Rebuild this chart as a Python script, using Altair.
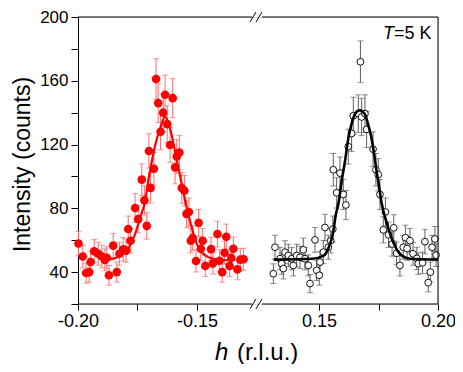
import altair as alt
import pandas as pd

# ---- data ----
# negative-h scan (red, filled)
h_neg = [-0.1998, -0.1980, -0.1966, -0.1953, -0.1947, -0.1932, -0.1915, -0.1900, -0.1887, -0.1879,
         -0.1870, -0.1852, -0.1837, -0.1826, -0.1810, -0.1798, -0.1789, -0.1779, -0.1760, -0.1747,
         -0.1732, -0.1721, -0.1711, -0.1702, -0.1695, -0.1681, -0.1672, -0.1663, -0.1653, -0.1642,
         -0.1634, -0.1625, -0.1613, -0.1602, -0.1592, -0.1585, -0.1574, -0.1564, -0.1553, -0.1544,
         -0.1534, -0.1526, -0.1518, -0.1504, -0.1493, -0.1484, -0.1476, -0.1465, -0.1441, -0.1433,
         -0.1414, -0.1405, -0.1394, -0.1384, -0.1377, -0.1363, -0.1356, -0.1347, -0.1330, -0.1318,
         -0.1304]
I_neg = [57.9, 49.8, 39.4, 40.0, 46.3, 53.1, 51.5, 49.8, 47.7, 49.0,
         38.0, 56.6, 40.0, 51.5, 54.3, 53.5, 67.0, 59.7, 80.2, 73.2,
         98.0, 85.0, 69.0, 116.0, 92.8, 104.8, 161.1, 146.0, 128.0, 140.0,
         151.2, 132.8, 119.7, 149.1, 105.7, 112.5, 115.0, 92.8, 91.1, 76.5,
         77.7, 59.7, 61.3, 47.0, 70.9, 54.6, 59.7, 43.9, 54.4, 45.5,
         63.9, 47.1, 40.0, 52.1, 62.2, 43.9, 48.9, 54.6, 41.7, 47.8,
         48.1]
err_neg = [7.6, 7.1, 6.3, 6.3, 6.8, 7.3, 7.2, 7.1, 6.9, 7.0,
           6.2, 7.5, 6.3, 7.2, 7.4, 7.3, 8.2, 7.7, 9.0, 8.6,
           9.9, 9.2, 8.3, 10.8, 9.6, 10.2, 12.7, 12.1, 11.3, 11.8,
           12.3, 11.5, 10.9, 12.2, 10.3, 10.6, 10.7, 9.6, 9.5, 8.7,
           8.8, 7.7, 7.8, 6.9, 8.4, 7.4, 7.7, 6.6, 7.4, 6.7,
           8.0, 6.9, 6.3, 7.2, 7.9, 6.6, 7.0, 7.4, 6.5, 6.9,
           6.9]

# positive-h scan (black, open)
h_pos = [0.1308, 0.1315, 0.1336, 0.1343, 0.1350, 0.1357, 0.1371, 0.1385, 0.1392, 0.1406,
         0.1420, 0.1434, 0.1441, 0.1455, 0.1462, 0.1483, 0.1490, 0.1501, 0.1504, 0.1518,
         0.1525, 0.1539, 0.1549, 0.1558, 0.1560, 0.1574, 0.1588, 0.1602, 0.1613, 0.1623,
         0.1637, 0.1644, 0.1665, 0.1674, 0.1679, 0.1693, 0.1700, 0.1727, 0.1739, 0.1749,
         0.1756, 0.1770, 0.1779, 0.1792, 0.1807, 0.1814, 0.1826, 0.1840, 0.1854, 0.1863,
         0.1870, 0.1882, 0.1895, 0.1911, 0.1917, 0.1935, 0.1945, 0.1959, 0.1968, 0.1975,
         0.1987, 0.1992]
I_pos = [39.0, 55.6, 48.4, 45.3, 42.2, 52.5, 50.4, 48.4, 44.2, 50.4,
         49.3, 54.0, 48.4, 44.2, 32.8, 60.2, 41.1, 38.0, 46.3, 52.5,
         68.0, 55.6, 59.7, 67.0, 104.2, 89.7, 102.1, 88.7, 82.1, 118.7,
         127.0, 138.0, 139.4, 171.9, 137.3, 139.4, 129.5, 117.1, 104.2, 101.1,
         88.7, 66.5, 77.7, 63.4, 57.6, 67.8, 51.8, 44.2, 55.6, 61.6,
         54.8, 59.7, 51.5, 48.6, 45.3, 45.8, 59.1, 33.4, 40.0, 55.6,
         60.8, 50.6]
err_pos = [6.2, 7.5, 7.0, 6.7, 6.5, 7.2, 7.1, 7.0, 6.6, 7.1,
           7.0, 7.3, 7.0, 6.6, 5.7, 7.8, 6.4, 6.2, 6.8, 7.2,
           8.2, 7.5, 7.7, 8.2, 10.2, 9.5, 10.1, 9.4, 9.1, 10.9,
           11.3, 11.7, 11.8, 13.1, 11.7, 11.8, 11.4, 10.8, 10.2, 10.1,
           9.4, 8.2, 8.8, 8.0, 7.6, 8.2, 7.2, 6.6, 7.5, 7.8,
           7.4, 7.7, 7.2, 7.0, 6.7, 6.8, 7.7, 5.8, 6.3, 7.5,
           7.8, 7.1]

# fitted curves
fit_neg_h = [-0.1873, -0.1837, -0.1795, -0.1760, -0.1739, -0.1718, -0.1705, -0.1690, -0.1672, -0.1655,
             -0.1634, -0.1613, -0.1592, -0.1579, -0.1564, -0.1543, -0.1522, -0.1501, -0.1474, -0.1432,
             -0.1350]
fit_neg_I = [47.8, 49.2, 53.5, 63.9, 74.2, 84.5, 97.0, 109.4, 121.8, 130.0,
             137.3, 130.0, 115.6, 106.3, 94.9, 80.4, 68.0, 57.7, 51.5, 48.4,
             47.3]
fit_pos_h = [0.1310, 0.1471, 0.1520, 0.1541, 0.1558, 0.1571, 0.1582, 0.1595, 0.1609, 0.1623,
             0.1639, 0.1651, 0.1672, 0.1693, 0.1708, 0.1721, 0.1731, 0.1742, 0.1752, 0.1763,
             0.1784, 0.1812, 0.1840, 0.1882, 0.2000]
fit_pos_I = [47.8, 48.4, 50.4, 55.6, 63.9, 76.3, 83.3, 97.0, 109.4, 123.8,
             134.2, 139.2, 141.5, 138.9, 131.7, 123.7, 114.3, 103.2, 93.9, 83.3,
             71.1, 58.7, 51.5, 48.4, 47.8]

# axis
x_ticks_h = [-0.20, -0.175, -0.15, 0.15, 0.175, 0.20]
x_tick_labels = ["-0.20", "", "-0.15", "0.15", "", "0.20"]
y_ticks = [20, 40, 60, 80, 100, 120, 140, 160, 180, 200]
x_title = ["h", "(r.l.u.)"]
t_label = ["T", "=5 K"]

# ---- broken-axis geometry ----
SHIFT = 0.2487            # positive h is drawn at h - SHIFT
U_MIN, U_MAX = -0.20, -0.0487
Y_MIN, Y_MAX = 20, 200
GAP = (-0.1269, -0.1227)  # axis gap (in drawn units)
SL = [(-0.1277, -0.1252), (-0.1252, -0.1227)]  # the two slashes
FONT = "Liberation Sans"
W, H = 360, 287

def to_u(h):
    return h if h < 0 else round(h - SHIFT, 5)

x_ticks_u = [to_u(v) for v in x_ticks_h]
expr = "''"
for v, lab in reversed(list(zip(x_ticks_u, x_tick_labels))):
    expr = f"abs(datum.value - ({v})) < 0.0005 ? '{lab}' : ({expr})"

xscale = alt.Scale(domain=[U_MIN, U_MAX], nice=False, zero=False)
yscale = alt.Scale(domain=[Y_MIN, Y_MAX], nice=False, zero=False)
xaxis = alt.Axis(values=x_ticks_u, labelExpr=expr, title=None, grid=False, domain=False,
                 tickSize=6, tickColor="black", tickWidth=1, labelFont=FONT, labelFontSize=18,
                 labelColor="black", labelPadding=2, labelFlush=False)
yaxis = alt.Axis(values=y_ticks, labelExpr="datum.value % 40 == 0 ? datum.label : ''",
                 title="Intensity (counts)", titleFont=FONT, titleFontSize=23, titleFontWeight="normal",
                 titleColor="black", titlePadding=5, titleY=147, grid=False, domain=True,
                 domainColor="black", domainWidth=1, tickSize=7, tickColor="black", tickWidth=1,
                 labelFont=FONT, labelFontSize=17, labelColor="black", labelPadding=3)

def X(f):
    return alt.X(f"{f}:Q", scale=xscale, axis=xaxis)

def Y(f):
    return alt.Y(f"{f}:Q", scale=yscale, axis=yaxis)

def scan_layers(h, I, e, err_color, point_mark, line_h, line_I, line_color, line_width):
    df = pd.DataFrame({"h": h, "I": I, "err": e})
    base = alt.Chart(df).transform_calculate(
        u=f"datum.h > 0 ? datum.h - {SHIFT} : datum.h",
        lo="datum.I - datum.err", hi="datum.I + datum.err")
    bars = base.mark_rule(color=err_color, strokeWidth=1).encode(x=X("u"), y=Y("lo"), y2="hi:Q")
    cap_lo = base.mark_tick(color=err_color, orient="horizontal", size=6, thickness=1).encode(x=X("u"), y=Y("lo"))
    cap_hi = base.mark_tick(color=err_color, orient="horizontal", size=6, thickness=1).encode(x=X("u"), y=Y("hi"))
    pts = base.mark_point(**point_mark).encode(x=X("u"), y=Y("I"))
    fit = alt.Chart(pd.DataFrame({"h": line_h, "I": line_I})).transform_calculate(
        u=f"datum.h > 0 ? datum.h - {SHIFT} : datum.h"
    ).mark_line(color=line_color, strokeWidth=line_width, interpolate="monotone").encode(
        x=X("u"), y=Y("I"), order="u:Q")
    return [bars, cap_lo, cap_hi, pts, fit]

red = scan_layers(h_neg, I_neg, err_neg, "#ff6a6a",
                  dict(shape="circle", filled=True, color="#ff0000", size=74, opacity=1),
                  fit_neg_h, fit_neg_I, "#ff0000", 2.2)
black = scan_layers(h_pos, I_pos, err_pos, "#606060",
                    dict(shape="circle", filled=True, fill="white", stroke="#111111", strokeWidth=1,
                         size=46, opacity=1),
                    fit_pos_h, fit_pos_I, "#000000", 2.6)

# frame and axis-break marks
slash_dy = 3.1
frame = pd.DataFrame({
    "u1": [U_MIN, GAP[1], U_MIN, GAP[1], U_MAX,
           SL[0][0], SL[1][0], SL[0][0], SL[1][0]],
    "u2": [GAP[0], U_MAX, GAP[0], U_MAX, U_MAX,
           SL[0][1], SL[1][1], SL[0][1], SL[1][1]],
    "y1": [Y_MAX, Y_MAX, Y_MIN, Y_MIN, Y_MIN,
           Y_MAX - slash_dy, Y_MAX - slash_dy, Y_MIN - slash_dy, Y_MIN - slash_dy],
    "y2": [Y_MAX, Y_MAX, Y_MIN, Y_MIN, Y_MAX,
           Y_MAX + slash_dy, Y_MAX + slash_dy, Y_MIN + slash_dy, Y_MIN + slash_dy],
})
frame_layer = alt.Chart(frame).mark_rule(color="black", strokeWidth=1).encode(
    x=X("u1"), x2="u2:Q", y=Y("y1"), y2="y2:Q")

def label(text, x, y, size, italic):
    return alt.Chart(pd.DataFrame({"t": [text]})).mark_text(
        font=FONT, fontSize=size, fontStyle="italic" if italic else "normal",
        align="left", baseline="alphabetic", color="black"
    ).encode(x=alt.value(x), y=alt.value(y), text="t:N")

texts = [
    label(x_title[0], 137, 343, 24, True),
    label(x_title[1], 159, 343, 24, False),
    label(t_label[0], 305, 22, 18, True),
    label(t_label[1], 316, 22, 18, False),
]

chart = alt.layer(*red, *black, frame_layer, *texts).properties(
    width=W, height=H,
    autosize=alt.AutoSizeParams(type="none"),
    padding={"left": 70, "top": 9, "right": 17, "bottom": 60},
).configure_view(stroke=None).configure(background="white")

chart.save("out.html", embed_options={"renderer": "svg", "actions": False})
